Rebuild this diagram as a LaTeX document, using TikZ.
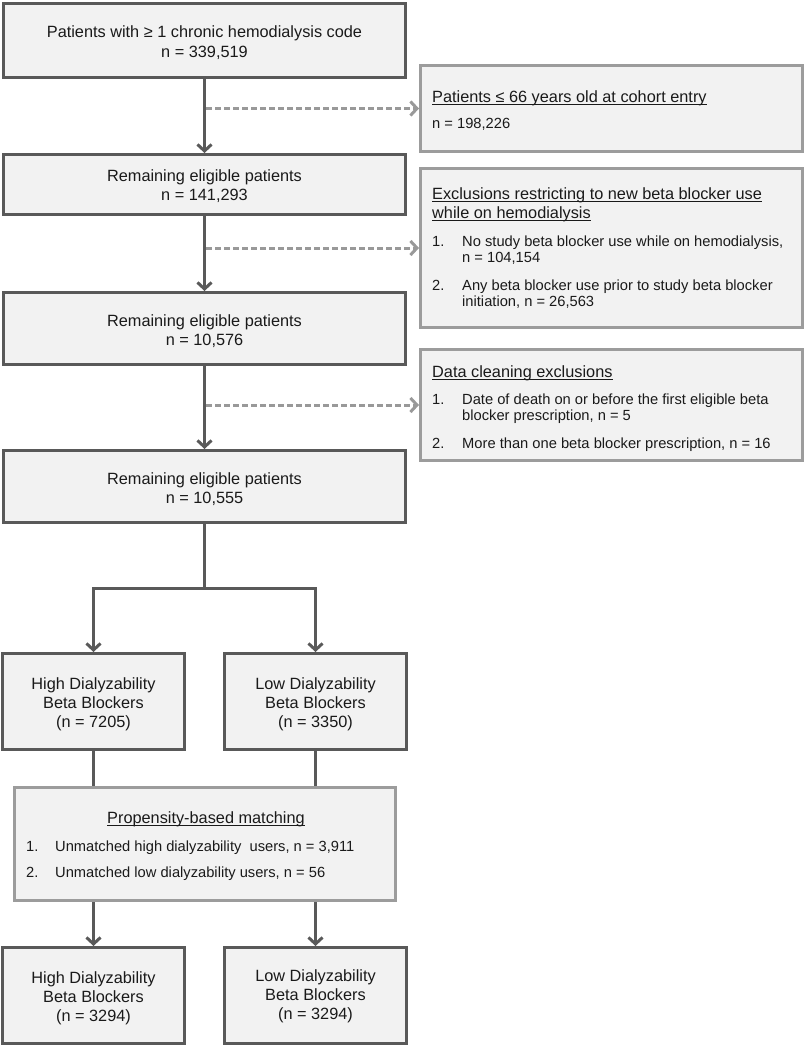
\documentclass[tikz,border=0pt]{standalone}
\usepackage{fontspec}
\setmainfont{Liberation Sans}
\usetikzlibrary{arrows.meta}
\definecolor{boxfill}{HTML}{F2F2F2}
\definecolor{darkline}{HTML}{595959}
\definecolor{lightline}{HTML}{9C9C9C}
\definecolor{dashline}{HTML}{999999}
\definecolor{txt}{HTML}{1A1A1A}
\newsavebox\ulinebox
\newcommand\ulinetext[1]{\sbox\ulinebox{#1}\rlap{\rule[-2.9pt]{\wd\ulinebox}{1.4pt}}\usebox\ulinebox}
\tikzset{
  every node/.style={text=txt, font=\fontsize{16.3}{19.5}\selectfont},
  mainbox/.style={draw=darkline, line width=3pt, fill=boxfill, rectangle, inner sep=0pt},
  sidebox/.style={draw=lightline, line width=3pt, fill=boxfill, rectangle, inner sep=0pt},
  mt/.style={anchor=base, inner sep=0pt},
  lbl/.style={anchor=base west, inner sep=0pt},
  itm/.style={anchor=base west, inner sep=0pt, font=\fontsize{14.7}{16.5}\selectfont},
  solidarrow/.style={draw=darkline, line width=3pt, -{Straight Barb[length=6.5pt,width=14pt]}},
  solidline/.style={draw=darkline, line width=3pt},
  dasharrow/.style={draw=dashline, line width=3pt, dash pattern=on 6pt off 3pt, -{Straight Barb[length=6.5pt,width=14pt]}},
}
\begin{document}
\begin{tikzpicture}[x=1pt, y=-1pt]
\useasboundingbox (0,0) rectangle (807,1047);

% main column boxes
\node[mainbox, minimum width=402pt, minimum height=74pt] (b1) at (204.5,40.5) {};
\node[mainbox, minimum width=402pt, minimum height=60pt] (b2) at (204.5,184.5) {};
\node[mainbox, minimum width=402pt, minimum height=72pt] (b3) at (204.5,328.5) {};
\node[mainbox, minimum width=402pt, minimum height=72pt] (b4) at (204.5,486.5) {};
\node[mainbox, minimum width=182pt, minimum height=96pt] (hi1) at (93.5,701.5) {};
\node[mainbox, minimum width=182pt, minimum height=96pt] (lo1) at (315.5,701.5) {};
\node[mainbox, minimum width=182pt, minimum height=96pt] (hi2) at (93.5,995.5) {};
\node[mainbox, minimum width=182pt, minimum height=96pt] (lo2) at (315.5,995.5) {};

% main column texts
\node[mt] (b1a) at (204.5,37) {Patients with ≥ 1 chronic hemodialysis code};
\node[mt] (b1b) at (204.5,57) {n = 339,519};
\node[mt] (b2a) at (204.5,181) {Remaining eligible patients};
\node[mt] (b2b) at (204.5,200) {n = 141,293};
\node[mt] (b3a) at (204.5,326) {Remaining eligible patients};
\node[mt] (b3b) at (204.5,345) {n = 10,576};
\node[mt] (b4a) at (204.5,484) {Remaining eligible patients};
\node[mt] (b4b) at (204.5,503) {n = 10,555};

\node[mt] (hi1a) at (93.5,689) {High Dialyzability};
\node[mt] (hi1b) at (93.5,708) {Beta Blockers};
\node[mt] (hi1c) at (93.5,727) {(n = 7205)};
\node[mt] (lo1a) at (315.5,689) {Low Dialyzability};
\node[mt] (lo1b) at (315.5,708) {Beta Blockers};
\node[mt] (lo1c) at (315.5,727) {(n = 3350)};
\node[mt] (hi2a) at (93.5,983) {High Dialyzability};
\node[mt] (hi2b) at (93.5,1002) {Beta Blockers};
\node[mt] (hi2c) at (93.5,1021) {(n = 3294)};
\node[mt] (lo2a) at (315.5,981) {Low Dialyzability};
\node[mt] (lo2b) at (315.5,1000) {Beta Blockers};
\node[mt] (lo2c) at (315.5,1019) {(n = 3294)};

% side boxes
\node[sidebox, minimum width=382pt, minimum height=86pt] (r1) at (611.5,108.5) {};
\node[sidebox, minimum width=382pt, minimum height=159pt] (r2) at (611.5,248) {};
\node[sidebox, minimum width=382pt, minimum height=111pt] (r3) at (611.5,405) {};
\node[sidebox, minimum width=381pt, minimum height=113pt] (prop) at (205,844) {};

% side box texts
\node[lbl] (r1h) at (432,102) {\ulinetext{Patients ≤ 66 years old at cohort entry}};
\node[itm] (r1n) at (432,128) {n = 198,226};

\node[lbl] (r2h1) at (432,199) {\ulinetext{Exclusions restricting to new beta blocker use}};
\node[lbl] (r2h2) at (432,218) {\ulinetext{while on hemodialysis}};
\node[itm] (r2n1) at (432,246) {1.};
\node[itm] (r2a) at (462,246) {No study beta blocker use while on hemodialysis,};
\node[itm] (r2b) at (462,262) {n = 104,154};
\node[itm] (r2n2) at (432,290) {2.};
\node[itm] (r2c) at (462,290) {Any beta blocker use prior to study beta blocker};
\node[itm] (r2d) at (462,306) {initiation, n = 26,563};

\node[lbl] (r3h) at (432,377) {\ulinetext{Data cleaning exclusions}};
\node[itm] (r3n1) at (432,404) {1.};
\node[itm] (r3a) at (462,404) {Date of death on or before the first eligible beta};
\node[itm] (r3b) at (462,420) {blocker prescription, n = 5};
\node[itm] (r3n2) at (432,448) {2.};
\node[itm] (r3c) at (462,448) {More than one beta blocker prescription, n = 16};

\node[mt] (ph) at (206,823) {\ulinetext{Propensity-based matching}};
\node[itm] (pn1) at (26,851) {1.};
\node[itm] (pa) at (55,851) {Unmatched high dialyzability\ \ users, n = 3,911};
\node[itm] (pn2) at (26,877) {2.};
\node[itm] (pb) at (55,877) {Unmatched low dialyzability users, n = 56};

% connectors
\draw[solidarrow] (b1.south) -- (b2.north);
\draw[solidarrow] (b2.south) -- (b3.north);
\draw[solidarrow] (b3.south) -- (b4.north);
\draw[dasharrow] ([xshift=1.5pt]b1.south |- r1.west) -- (r1.west);
\draw[dasharrow] ([xshift=1.5pt]b2.south |- r2.west) -- (r2.west);
\draw[dasharrow] ([xshift=1.5pt]b3.south |- r3.west) -- (r3.west);

\coordinate (split) at (204.5,588);
\draw[solidline] (b4.south) -- (split);
\draw[solidarrow, line join=miter] ([xshift=1.5pt]split) -| (hi1.north);
\draw[solidarrow, line join=miter] ([xshift=-1.5pt]split) -| (lo1.north);

\draw[solidline] (hi1.south) -- (hi1.south |- prop.north);
\draw[solidline] (lo1.south) -- (lo1.south |- prop.north);
\draw[solidarrow] (hi1.south |- prop.south) -- (hi2.north);
\draw[solidarrow] (lo1.south |- prop.south) -- (lo2.north);
\end{tikzpicture}
\end{document}
